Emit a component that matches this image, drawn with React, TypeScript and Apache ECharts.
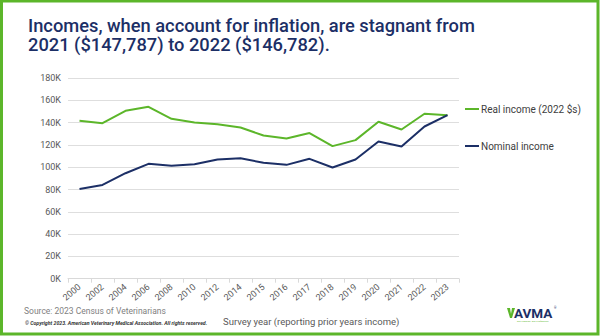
import React, { useEffect, useRef } from "react";
import * as echarts from "echarts";

const years = ["2000","2002","2004","2006","2008","2010","2012","2014","2015","2016","2017","2018","2019","2020","2021","2022","2023"];
const realIncome = [141.6,139.5,150.6,154.2,143.4,140.1,138.6,135.6,128.4,125.7,130.6,118.9,124.3,140.7,133.8,147.9,146.7];
const nominalIncome = [80.5,84.1,94.6,103.0,101.2,102.7,106.9,108.1,103.9,102.1,107.5,99.7,106.9,123.0,118.5,136.5,146.7];
const seriesNames = ["Real income (2022 $s)", "Nominal income"];
const titleLines = ["Incomes, when account for inflation, are stagnant from", "2021 ($147,787) to 2022 ($146,782)."];

const GREEN = "#5cb62a";
const NAVY = "#1c2f66";
const FONT = "Roboto, 'Open Sans', sans-serif";

export default function App() {
  const ref = useRef<HTMLDivElement>(null);
  useEffect(() => {
    if (!ref.current) return;
    const chart = echarts.init(ref.current, undefined, { renderer: "svg" });
    chart.setOption({
      animation: false,
      backgroundColor: "#ffffff",
      grid: { left: 68, right: 141, top: 78, bottom: 57.3 },
      xAxis: {
        type: "category",
        data: years,
        boundaryGap: true,
        axisLine: { lineStyle: { color: "#d9d9d9" } },
        axisTick: { show: true, lineStyle: { color: "#d9d9d9" }, length: 4 },
        axisLabel: { rotate: 40, color: "#595959", fontSize: 9, fontFamily: FONT, margin: 7, interval: 0 },
      },
      yAxis: {
        type: "value",
        min: 0,
        max: 180,
        interval: 20,
        axisLine: { show: false },
        axisTick: { show: false },
        splitLine: { lineStyle: { color: "#dedede", width: 1 } },
        axisLabel: { color: "#595959", fontSize: 9, fontFamily: FONT, margin: 7, formatter: (v: number) => v + "K" },
      },
      legend: [
        {
          data: [seriesNames[0]], left: 465, top: 104, icon: "rect", itemWidth: 14, itemHeight: 2, itemGap: 0, padding: 0,
          textStyle: { color: "#404040", fontSize: 10, fontFamily: FONT, padding: [0, 0, 0, -3] },
        },
        {
          data: [seriesNames[1]], left: 465, top: 141, icon: "rect", itemWidth: 14, itemHeight: 2, itemGap: 0, padding: 0,
          textStyle: { color: "#404040", fontSize: 10, fontFamily: FONT, padding: [0, 0, 0, -3] },
        },
      ],
      series: [
        { name: seriesNames[0], type: "line", data: realIncome, showSymbol: false, symbol: "none", color: GREEN, lineStyle: { width: 2, color: GREEN } },
        { name: seriesNames[1], type: "line", data: nominalIncome, showSymbol: false, symbol: "none", color: NAVY, lineStyle: { width: 2, color: NAVY } },
      ],
      graphic: [
        { type: "rect", shape: { x: 1.5, y: 1, width: 596.5, height: 333 }, style: { fill: "none", stroke: GREEN, lineWidth: 3 }, z: 100 },
        { type: "text", left: 28, top: 16, style: { text: titleLines[0], fill: NAVY, font: `500 18.3px ${FONT}` } },
        { type: "text", left: 28, top: 35, style: { text: titleLines[1], fill: NAVY, font: `500 18.3px ${FONT}` } },
        { type: "text", left: 24, top: 306, style: { text: "Source: 2023 Census of Veterinarians", fill: "#7f7f7f", font: `8.5px ${FONT}` } },
        { type: "text", left: 25, top: 320, style: { text: "© Copyright 2023. American Veterinary Medical Association. All rights reserved.", fill: "#333333", font: `italic bold 5.2px ${FONT}` } },
        { type: "text", left: 223, top: 316, style: { text: "Survey year (reporting prior years income)", fill: "#595959", font: `9.5px ${FONT}` } },
        { type: "polygon", shape: { points: [[507, 308], [510, 308], [511, 314], [512, 308], [515, 308], [512, 318], [510, 318]] }, style: { fill: GREEN } },
        { type: "text", left: 514, top: 305.5, style: { text: "AVMA", fill: NAVY, font: `bold 13.5px ${FONT}` } },
        { type: "text", left: 554, top: 306, style: { text: "®", fill: NAVY, font: `3px ${FONT}` } },
        { type: "text", left: 517, top: 320, style: { text: "Our Passion. Our Profession.", fill: GREEN, font: `2.5px ${FONT}` } },
      ],
    });
    return () => chart.dispose();
  }, []);
  return <div ref={ref} style={{ position: "fixed", left: 0, top: 0, width: 600, height: 336 }} />;
}
